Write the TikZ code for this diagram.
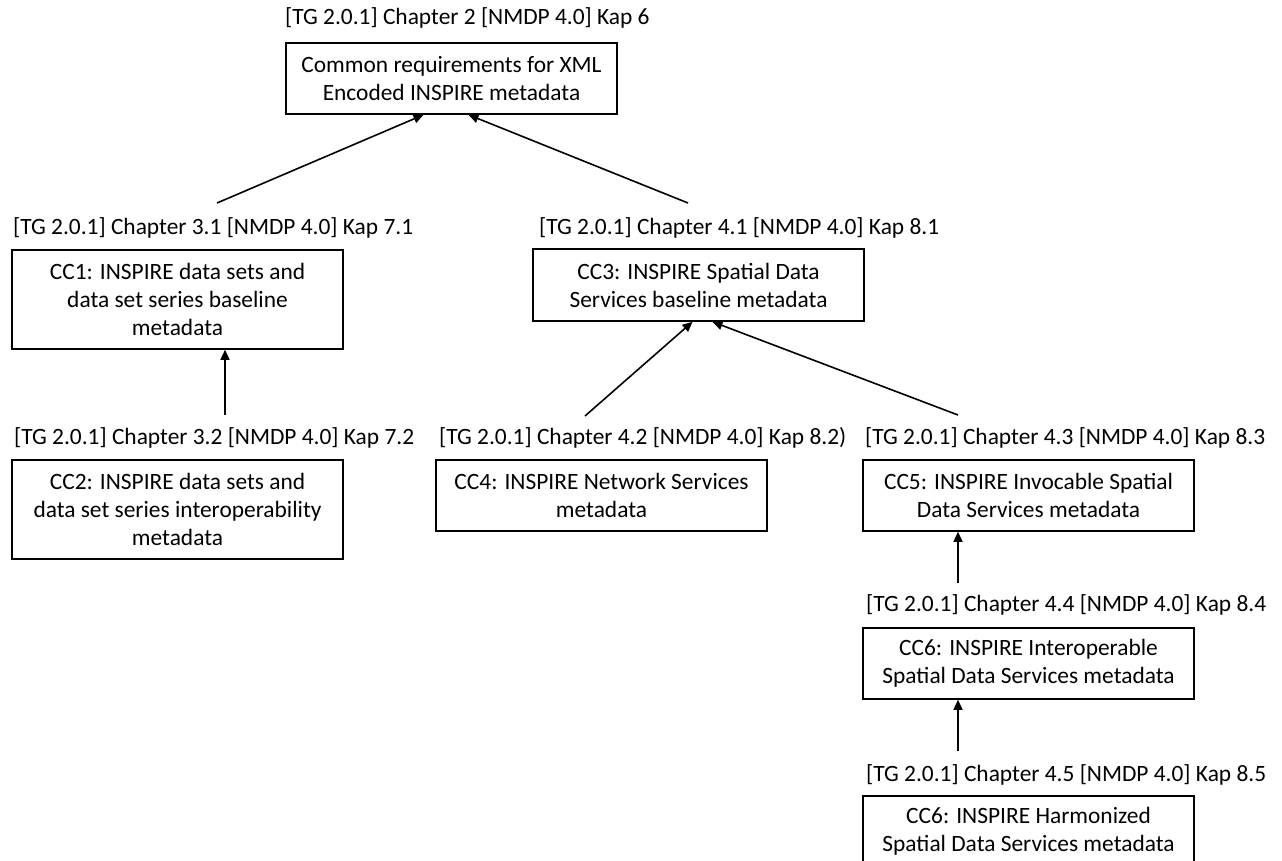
\documentclass[tikz,border=0pt]{standalone}
\usepackage{fontspec}
\setmainfont{Carlito}
\usetikzlibrary{arrows.meta}
\begin{document}
\begin{tikzpicture}[x=1pt,y=-1pt,
  box/.style={draw,line width=1.6pt,inner sep=0pt,align=center,minimum width=331pt,font=\fontsize{23.4}{28}\selectfont},
  lbl/.style={inner sep=0pt,anchor=west,font=\fontsize{23.4}{28}\selectfont},
  arr/.style={line width=1.6pt,-{Triangle[length=10pt,width=9pt]}}]
\useasboundingbox (0,0) rectangle (1282,861);
\begin{scope}
\clip (0,0) rectangle (1282,861);
% top
\node[lbl] (ltop) at (285,18) {[TG 2.0.1] Chapter 2 [NMDP 4.0] Kap 6};
\node[box,minimum height=71pt] (top) at (451.5,78.5) {Common requirements for XML\\Encoded INSPIRE metadata};
% CC1
\node[lbl] (l1) at (13,228) {[TG 2.0.1] Chapter 3.1 [NMDP 4.0] Kap 7.1};
\node[box,minimum height=99pt] (cc1) at (177.5,299.5) {CC1: INSPIRE data sets and\\data set series baseline\\metadata};
% CC3
\node[lbl] (l3) at (539,228) {[TG 2.0.1] Chapter 4.1 [NMDP 4.0] Kap 8.1};
\node[box,minimum height=72pt] (cc3) at (698.5,285) {CC3: INSPIRE Spatial Data\\Services baseline metadata};
% CC2
\node[lbl] (l2) at (14,438) {[TG 2.0.1] Chapter 3.2 [NMDP 4.0] Kap 7.2};
\node[box,minimum height=99pt] (cc2) at (177.5,509.5) {CC2: INSPIRE data sets and\\data set series interoperability\\metadata};
% CC4
\node[lbl] (l4) at (439,438) {[TG 2.0.1] Chapter 4.2 [NMDP 4.0] Kap 8.2)};
\node[box,minimum height=71pt] (cc4) at (601.5,495.5) {CC4: INSPIRE Network Services\\metadata};
% CC5
\node[lbl] (l5) at (865,438) {[TG 2.0.1] Chapter 4.3 [NMDP 4.0] Kap 8.3};
\node[box,minimum height=71pt] (cc5) at (1028.5,495.5) {CC5: INSPIRE Invocable Spatial\\Data Services metadata};
% CC6a
\node[lbl] (l6) at (866,605) {[TG 2.0.1] Chapter 4.4 [NMDP 4.0] Kap 8.4};
\node[box,minimum height=71pt] (cc6a) at (1028.5,663.5) {CC6: INSPIRE Interoperable\\Spatial Data Services metadata};
% CC6b
\node[lbl] (l7) at (866,775) {[TG 2.0.1] Chapter 4.5 [NMDP 4.0] Kap 8.5};
\node[box,minimum height=71pt] (cc6b) at (1028.5,831.5) {CC6: INSPIRE Harmonized\\Spatial Data Services metadata};
\end{scope}
% free ends
\coordinate (a1) at (217,203);
\coordinate (a2) at (688,203);
\coordinate (a3) at (225,415);
\coordinate (a4) at (585,416);
\coordinate (a5) at (958,415);
\coordinate (a6) at (958,583);
\coordinate (a7) at (958,751);
\draw[arr] (a1) -- ([xshift=-28pt]top.south);
\draw[arr] (a2) -- ([xshift=17pt]top.south);
\draw[arr] (a3) -- (a3 |- cc1.south);
\draw[arr] (a4) -- ([xshift=-6pt]cc3.south);
\draw[arr] (a5) -- ([xshift=14pt]cc3.south);
\draw[arr] (a6) -- (a6 |- cc5.south);
\draw[arr] (a7) -- (a7 |- cc6a.south);
\end{tikzpicture}
\end{document}
